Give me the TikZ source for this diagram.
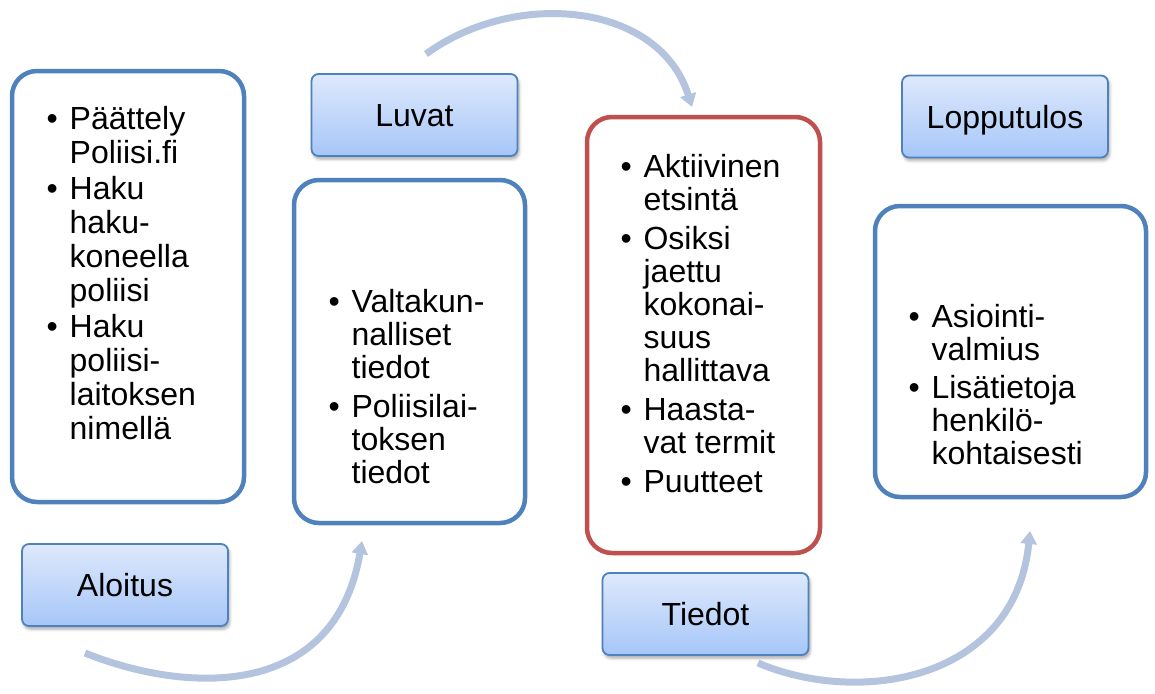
\documentclass[tikz,border=0pt]{standalone}
\usepackage{fontspec}
\setmainfont{Liberation Sans}
\usetikzlibrary{arrows.meta,shadows.blur}

\definecolor{frameblue}{RGB}{79,129,189}
\definecolor{framered}{RGB}{192,80,77}
\definecolor{gradtop}{RGB}{222,233,252}
\definecolor{gradbot}{RGB}{166,198,248}
\definecolor{flowcol}{RGB}{180,196,222}

\newcommand{\bl}{\makebox[23pt][l]{\textbullet}}

\tikzset{
  panel/.style={draw=frameblue, line width=4.5pt, rounded corners=25pt,
    rectangle, inner sep=0pt},
  redpanel/.style={panel, draw=framered},
  tag/.style={rectangle, draw=frameblue, line width=1.8pt, rounded corners=7pt,
    top color=gradtop, bottom color=gradbot,
    minimum width=206pt, minimum height=82pt, inner sep=0pt,
    font=\fontsize{32}{36}\selectfont, text height=23pt, text depth=0pt,
    blur shadow={shadow xshift=1.5pt, shadow yshift=-3pt,
      shadow blur radius=3pt, shadow opacity=35}},
  listtext/.style={anchor=base west, inner sep=0pt, align=left},
  flow/.style={draw=flowcol, line width=7pt,
    -{Triangle[width=16pt,length=13pt]}}
}

\begin{document}
\begin{tikzpicture}[x=1pt,y=-1pt]
\useasboundingbox (0,0) rectangle (1155,693);

% framed panels
\node[panel, minimum width=232pt, minimum height=431pt] (p1) at (128,286.5) {};
\node[panel, minimum width=231pt, minimum height=343pt] (p2) at (409.5,351.5) {};
\node[redpanel, minimum width=233pt, minimum height=436pt] (p3) at (703.5,335) {};
\node[panel, minimum width=271pt, minimum height=291pt] (p4) at (1010.5,351.5) {};

% bullet lists
\node[listtext, font=\fontsize{32}{34}\selectfont] (t1) at (46.5,129) {%
\begin{tabular}[t]{@{}l@{}l@{}}
\bl & Päättely\\
    & Poliisi.fi\\[2pt]
\bl & Haku\\
    & haku-\\
    & koneella\\
    & poliisi\\[2pt]
\bl & Haku\\
    & poliisi-\\
    & laitoksen\\
    & nimellä
\end{tabular}};

\node[listtext, font=\fontsize{32}{33}\selectfont] (t2) at (328.4,312) {%
\begin{tabular}[t]{@{}l@{}l@{}}
\bl & Valtakun-\\
    & nalliset\\
    & tiedot\\[6pt]
\bl & Poliisilai-\\
    & toksen\\
    & tiedot
\end{tabular}};

\node[listtext, font=\fontsize{32}{33}\selectfont] (t3) at (620.4,177) {%
\begin{tabular}[t]{@{}l@{}l@{}}
\bl & Aktiivinen\\
    & etsintä\\[6pt]
\bl & Osiksi\\
    & jaettu\\
    & kokonai-\\
    & suus\\
    & hallittava\\[6pt]
\bl & Haasta-\\
    & vat termit\\[6pt]
\bl & Puutteet
\end{tabular}};

\node[listtext, font=\fontsize{32}{33}\selectfont] (t4) at (908.4,327) {%
\begin{tabular}[t]{@{}l@{}l@{}}
\bl & Asiointi-\\
    & valmius\\[5pt]
\bl & Lisätietoja\\
    & henkilö-\\
    & kohtaisesti
\end{tabular}};

% stage labels
\node[tag] (aloitus) at (125,585) {Aloitus};
\node[tag] (luvat) at (414.5,115) {Luvat};
\node[tag] (tiedot) at (705.5,614) {Tiedot};
\node[tag] (lopputulos) at (1005,116.5) {Lopputulos};

% curved flow arrows
\coordinate (a1s) at (85,653);
\coordinate (a1e) at (362,541);
\coordinate (a2s) at (426,54);
\coordinate (a2e) at (692,107);
\coordinate (a3s) at (758,663);
\coordinate (a3e) at (1030,531);

\draw[flow] (a1s) .. controls (187,694) and (335,700) .. (a1e);
\draw[flow] (a2s) .. controls (515,-11) and (659,2) .. (a2e);
\draw[flow] (a3s) .. controls (859,706) and (1015,681) .. (a3e);
\end{tikzpicture}
\end{document}
